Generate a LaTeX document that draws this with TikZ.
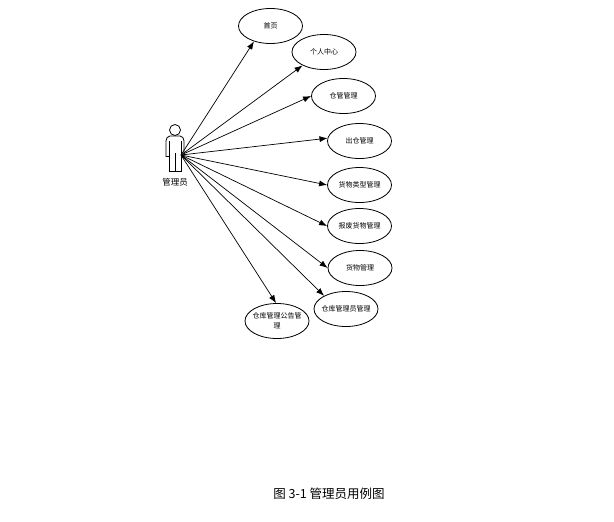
\documentclass[tikz,border=0pt]{standalone}
\usepackage{fontspec}
\setmainfont{Noto Sans CJK SC}
\usetikzlibrary{shapes.geometric,arrows.meta}
\tikzset{
	usecase/.style={draw,thick,ellipse,minimum width=64pt,minimum height=35pt,inner xsep=-10pt,inner ysep=0pt,align=center,font=\fontsize{7}{10}\selectfont},
	usearrow/.style={-{Latex[length=8pt,width=6pt]},line width=0.7pt},
}
\begin{document}
\begin{tikzpicture}[x=1pt,y=-1pt]
			\useasboundingbox (0,0) rectangle (614,522);
			
			% actor
			\draw[thick] (175,130) circle (5.5);
			\draw[thick] (169,156.5) -- (166,156.5) -- (166,141) to[out=90,in=180] (170,136) -- (180,136) to[out=0,in=90] (184,141) -- (184,156.5) -- (181,156.5);
			\draw[thick] (169,141) -- (169,171) -- (181,171) -- (181,141);
			\draw[thick] (175,153) -- (175,171);
			\coordinate (hub) at (181,155);
			\node[font=\fontsize{8.5}{10}\selectfont] (admin) at (175,182) {管理员};
			
			% use cases
			\node[usecase] (home) at (270.5,26) {首页};
			\node[usecase] (profile) at (324,52) {个人中心};
			\node[usecase] (keeper) at (343.5,96) {仓管管理};
			\node[usecase] (outbound) at (359.5,141) {出仓管理};
			\node[usecase] (goodstype) at (359.5,185) {货物类型管理};
			\node[usecase] (scrap) at (359.5,226) {报废货物管理};
			\node[usecase] (goods) at (360,268) {货物管理};
			\node[usecase] (manager) at (346,309) {仓库管理员管理};
			\node[usecase] (notice) at (277,321) {仓库管理公告管\\理};
			
			% arrows from the actor
			\foreach \target/\ang in {home/223,profile/212,keeper/180,outbound/175,goodstype/180,scrap/180,goods/180,manager/149,notice/93}
				\draw[usearrow] (hub) -- (\target.\ang);
			
			\node[font=\fontsize{12.5}{15}\selectfont] (caption) at (329,494) {图 3-1 管理员用例图};
			
		\end{tikzpicture}
\end{document}
